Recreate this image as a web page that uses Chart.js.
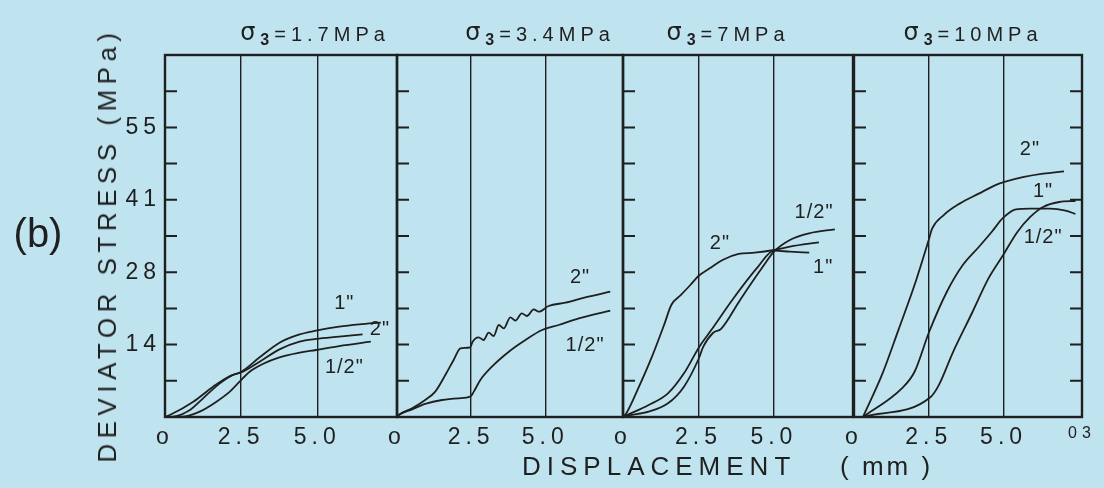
<!DOCTYPE html>
<html>
<head>
<meta charset="utf-8">
<script src="https://cdn.jsdelivr.net/npm/chart.js@4.4.0/dist/chart.umd.min.js"></script>
<style>
  html, body { margin: 0; padding: 0; background: #bfe4ef; }
  #wrap { position: relative; width: 1104px; height: 488px; background: #bfe4ef; overflow: hidden;
          font-family: "Liberation Sans", Arial, sans-serif; color: #1f1f1f; }
  #wrap canvas { position: absolute; left: 0; top: 0; }
  .lbl { position: absolute; white-space: nowrap; line-height: 1; }
  #ytitle { font-size: 26px; letter-spacing: 5.5px; left: 107px; top: 245px;
            transform: translate(-50%, -50%) rotate(-90deg); }
  #plabel { font-size: 40px; left: 38px; top: 233px; transform: translate(-50%, -50%); }
  #xtitle { font-size: 26px; letter-spacing: 6px; left: 522px; top: 466px; transform: translateY(-50%); }
  #xunit { font-size: 26px; letter-spacing: 3px; left: 840px; top: 466px; transform: translateY(-50%); }
</style>
</head>
<body>
<div id="wrap">
  <canvas id="c1" width="1104" height="488"></canvas>
  <canvas id="c2" width="1104" height="488"></canvas>
  <canvas id="c3" width="1104" height="488"></canvas>
  <canvas id="c4" width="1104" height="488"></canvas>
  <div class="lbl" id="plabel">(b)</div>
  <div class="lbl" id="ytitle">DEVIATOR STRESS (MPa)</div>
  <div class="lbl" id="xtitle">DISPLACEMENT</div>
  <div class="lbl" id="xunit">( mm )</div>
</div>
<script>
// axes (displacement in mm, deviator stress in MPa)
var xMax = 7.62;
var yMax = 68.95;
var xTickValues = [0, 2.5, 5.0];
var xTickLabels = ['o', '2.5', '5.0'];
var endTickValue = 7.62;
var endTickLabel = '03';
var yTickValues = [0, 6.895, 13.79, 20.685, 27.58, 34.475, 41.37, 48.265, 55.16, 62.055, 68.95];
var yTickLabels = ['', '', '14', '', '28', '', '41', '', '55', '', ''];

// sigma3 = 1.7 MPa
var p1_1in_x = [0, 0.16, 0.93, 1.58, 2.13, 2.51, 3.11, 3.76, 4.42, 4.96, 5.72, 6.38, 7.09];
var p1_1in_y = [0, 0.38, 2.92, 5.78, 7.81, 8.63, 11.37, 14.16, 15.74, 16.45, 17.21, 17.65, 17.97];
var p1_2in_x = [0, 0.27, 0.82, 1.25, 1.80, 2.23, 2.56, 3.11, 3.76, 4.42, 4.96, 5.72, 6.49];
var p1_2in_y = [0, 0.06, 1.33, 3.56, 6.41, 8.00, 8.63, 10.54, 12.89, 14.35, 14.86, 15.30, 15.75];
var p1_half_x = [0, 0.60, 1.14, 1.69, 2.13, 2.45, 2.78, 3.21, 3.76, 4.42, 4.96, 5.72, 6.76];
var p1_half_y = [0, 0.06, 1.02, 2.92, 4.83, 6.73, 8.63, 10.10, 11.37, 12.25, 12.76, 13.52, 14.35];

// sigma3 = 3.4 MPa
var p2_2in_x = [0, 0.06, 0.51, 0.95, 1.29, 1.63, 1.91, 2.14, 2.47, 2.55, 2.75, 2.92, 3.09, 3.26, 3.43, 3.60, 3.82, 3.99, 4.21, 4.38, 4.61, 4.78, 5.11, 5.68, 6.35, 7.19];
var p2_2in_y = [0, 0.38, 1.65, 3.24, 4.83, 8.00, 10.86, 13.08, 13.27, 14.35, 15.18, 14.67, 16.06, 15.43, 17.52, 16.89, 18.99, 18.35, 19.75, 19.24, 20.51, 20.06, 21.14, 21.78, 22.80, 23.87];
var p2_half_x = [0, 0.06, 0.51, 0.95, 1.52, 2.08, 2.47, 2.59, 2.81, 3.20, 3.77, 4.33, 4.89, 5.45, 6.13, 7.19];
var p2_half_y = [0, 0.38, 1.46, 2.48, 3.24, 3.56, 3.87, 4.83, 7.05, 9.59, 12.44, 14.67, 16.57, 17.52, 18.80, 20.26];

// sigma3 = 7 MPa
var p3_2in_x = [0, 0.11, 0.53, 0.96, 1.38, 1.60, 1.92, 2.23, 2.50, 2.87, 3.30, 3.83, 4.36, 5.00, 5.53, 6.49];
var p3_2in_y = [0, 0.70, 5.78, 11.49, 17.84, 21.33, 23.24, 25.14, 26.86, 28.32, 29.91, 31.05, 31.30, 31.81, 32.45, 33.27];
var p3_1in_x = [0, 0.11, 0.85, 1.49, 2.02, 2.53, 2.93, 3.62, 4.47, 5.00, 5.53, 6.17];
var p3_1in_y = [0, 0.30, 2.29, 4.51, 8.32, 13.40, 16.60, 22.30, 28.60, 31.68, 31.49, 31.30];
var p3_half_x = [0, 0.11, 0.85, 1.49, 2.02, 2.50, 2.66, 2.98, 3.25, 3.88, 4.63, 5.00, 5.53, 6.17, 7.02];
var p3_half_y = [0, 0.20, 1.02, 2.60, 5.78, 11.00, 13.40, 16.00, 16.80, 22.30, 28.60, 31.49, 33.72, 34.99, 35.75];

// sigma3 = 10 MPa
var p4_2in_x = [0.3, 0.95, 1.48, 2.02, 2.51, 2.61, 2.99, 3.53, 4.17, 4.71, 5.03, 5.68, 6.32, 7.02];
var p4_2in_y = [0, 8.25, 16.51, 25.08, 33.97, 35.87, 38.42, 40.64, 42.54, 44.13, 44.77, 45.72, 46.35, 46.80];
var p4_1in_x = [0.3, 1.59, 2.02, 2.51, 3.10, 3.63, 4.17, 4.60, 4.98, 5.41, 5.89, 6.54, 7.07, 7.40];
var p4_1in_y = [0, 5.40, 8.57, 16.19, 23.81, 28.89, 32.38, 35.24, 37.91, 39.56, 39.69, 39.69, 39.31, 38.67];
var p4_half_x = [0.3, 2.56, 2.83, 3.31, 3.96, 4.49, 4.98, 5.46, 5.89, 6.32, 6.86, 7.40];
var p4_half_y = [0, 3.81, 6.03, 12.38, 20.00, 26.35, 30.80, 35.24, 38.10, 40.00, 40.95, 41.14];

// curve labels, anchored in data units
var p1_labels = ['1"', '2"', '1/2"'];
var p1_label_x = [5.89, 7.06, 5.89];
var p1_label_y = [21.7, 16.6, 9.5];
var p2_labels = ['2"', '1/2"'];
var p2_label_x = [6.17, 6.34];
var p2_label_y = [26.5, 13.7];
var p3_labels = ['2"', '1/2"', '1"'];
var p3_label_x = [3.21, 6.33, 6.63];
var p3_label_y = [33.1, 39.0, 28.4];
var p4_labels = ['2"', '1"', '1/2"'];
var p4_label_x = [5.88, 6.32, 6.32];
var p4_label_y = [50.9, 42.9, 34.1];

var titles = ['1.7MPa', '3.4MPa', '7MPa', '10MPa'];

var ink = '#1f1f1f';
var font = '"Liberation Sans", Arial, sans-serif';

function pts(xs, ys) {
    return xs.map(function (x, i) { return {x: x, y: ys[i]}; });
}

var panels = [
    {id: 'c1', left: 165, right: 397, titleX: 315, yLabels: true, rightTicks: false, endTick: false,
        series: [[p1_1in_x, p1_1in_y], [p1_2in_x, p1_2in_y], [p1_half_x, p1_half_y]],
        labels: p1_labels, labelX: p1_label_x, labelY: p1_label_y},
    {id: 'c2', left: 397, right: 623, titleX: 540, yLabels: false, rightTicks: false, endTick: false,
        series: [[p2_2in_x, p2_2in_y], [p2_half_x, p2_half_y]],
        labels: p2_labels, labelX: p2_label_x, labelY: p2_label_y},
    {id: 'c3', left: 623, right: 853, titleX: 728, yLabels: false, rightTicks: false, endTick: false,
        series: [[p3_2in_x, p3_2in_y], [p3_1in_x, p3_1in_y], [p3_half_x, p3_half_y]],
        labels: p3_labels, labelX: p3_label_x, labelY: p3_label_y},
    {id: 'c4', left: 854, right: 1082, titleX: 973, yLabels: false, rightTicks: true, endTick: true,
        series: [[p4_2in_x, p4_2in_y], [p4_1in_x, p4_1in_y], [p4_half_x, p4_half_y]],
        labels: p4_labels, labelX: p4_label_x, labelY: p4_label_y}
];

// frame, inner ticks, panel title and curve labels
var panelDecor = {
    id: 'panelDecor',
    beforeDraw: function (chart) {
        chart.ctx.letterSpacing = '5px';
    },
    afterDraw: function (chart, args, opts) {
        var ctx = chart.ctx;
        var a = chart.chartArea;
        var xs = chart.scales.x, ys = chart.scales.y;
        ctx.save();
        ctx.strokeStyle = ink;
        ctx.lineWidth = 2.4;
        ctx.strokeRect(a.left, a.top, a.right - a.left, a.bottom - a.top);

        ctx.lineWidth = 2;
        ctx.beginPath();
        yTickValues.slice(1, -1).forEach(function (v) {
            var py = ys.getPixelForValue(v);
            ctx.moveTo(a.left, py);
            ctx.lineTo(a.left + 12, py);
            if (opts.rightTicks) {
                ctx.moveTo(a.right - 12, py);
                ctx.lineTo(a.right, py);
            }
        });
        ctx.stroke();

        // sigma_3 = ... title
        var pieces = [
            {t: '\u03C3', f: '24px "DejaVu Sans"', dy: -1},
            {t: '3', f: 'bold 16px ' + font, dy: 6},
            {t: '=' + opts.title, f: '20px ' + font, dy: 0}
        ];
        ctx.fillStyle = ink;
        ctx.letterSpacing = '5px';
        ctx.textBaseline = 'middle';
        ctx.textAlign = 'left';
        var w = 0;
        pieces.forEach(function (p) { ctx.font = p.f; p.w = ctx.measureText(p.t).width; w += p.w; });
        var tx = opts.titleX - w / 2;
        pieces.forEach(function (p) { ctx.font = p.f; ctx.fillText(p.t, tx, 35 + p.dy); tx += p.w; });

        ctx.font = '20px ' + font;
        ctx.letterSpacing = '1px';
        ctx.textAlign = 'center';
        opts.labels.forEach(function (txt, i) {
            ctx.fillText(txt, xs.getPixelForValue(opts.labelX[i]), ys.getPixelForValue(opts.labelY[i]));
        });
        ctx.restore();
    }
};

panels.forEach(function (p) {
    var yWidth = p.yLabels ? 60 : 0;
    var xTicks = p.endTick ? xTickValues.concat([endTickValue]) : xTickValues;
    var datasets = p.series.map(function (s) {
        return {
            data: pts(s[0], s[1]),
            borderColor: ink,
            borderWidth: 1.8,
            pointRadius: 0,
            fill: false,
            cubicInterpolationMode: 'monotone'
        };
    });

    new Chart(document.getElementById(p.id).getContext('2d'), {
        type: 'line',
        data: {datasets: datasets},
        plugins: [panelDecor],
        options: {
            responsive: false,
            animation: false,
            devicePixelRatio: 1,
            events: [],
            layout: {
                padding: {top: 55, bottom: 31, left: p.left - yWidth, right: 1104 - p.right}
            },
            plugins: {
                legend: {display: false},
                tooltip: {enabled: false},
                panelDecor: {
                    title: titles[panels.indexOf(p)],
                    titleX: p.titleX,
                    rightTicks: p.rightTicks,
                    labels: p.labels, labelX: p.labelX, labelY: p.labelY
                }
            },
            scales: {
                x: {
                    type: 'linear',
                    min: 0,
                    max: xMax,
                    afterBuildTicks: function (scale) {
                        scale.ticks = xTicks.map(function (v) { return {value: v}; });
                    },
                    afterFit: function (scale) { scale.height = 40; },
                    ticks: {
                        autoSkip: false,
                        maxRotation: 0,
                        padding: 7,
                        color: ink,
                        font: function (c) {
                            return c.tick && c.tick.value > 7 ? {family: font, size: 16} : {family: font, size: 23};
                        },
                        callback: function (v) {
                            if (v === endTickValue) return endTickLabel;
                            var i = xTickValues.indexOf(v);
                            return i >= 0 ? xTickLabels[i] : '';
                        }
                    },
                    grid: {color: ink, lineWidth: 1.4, drawTicks: false},
                    border: {display: false}
                },
                y: {
                    min: 0,
                    max: yMax,
                    afterBuildTicks: function (scale) {
                        scale.ticks = yTickValues.map(function (v) { return {value: v}; });
                    },
                    afterFit: function (scale) { scale.width = yWidth; },
                    ticks: {
                        display: p.yLabels,
                        padding: 4,
                        color: ink,
                        font: {family: font, size: 23},
                        callback: function (v) {
                            var i = yTickValues.indexOf(v);
                            return i >= 0 ? yTickLabels[i] : '';
                        }
                    },
                    grid: {display: false, drawTicks: false},
                    border: {display: false}
                }
            }
        }
    });
});
</script>
</body>
</html>
